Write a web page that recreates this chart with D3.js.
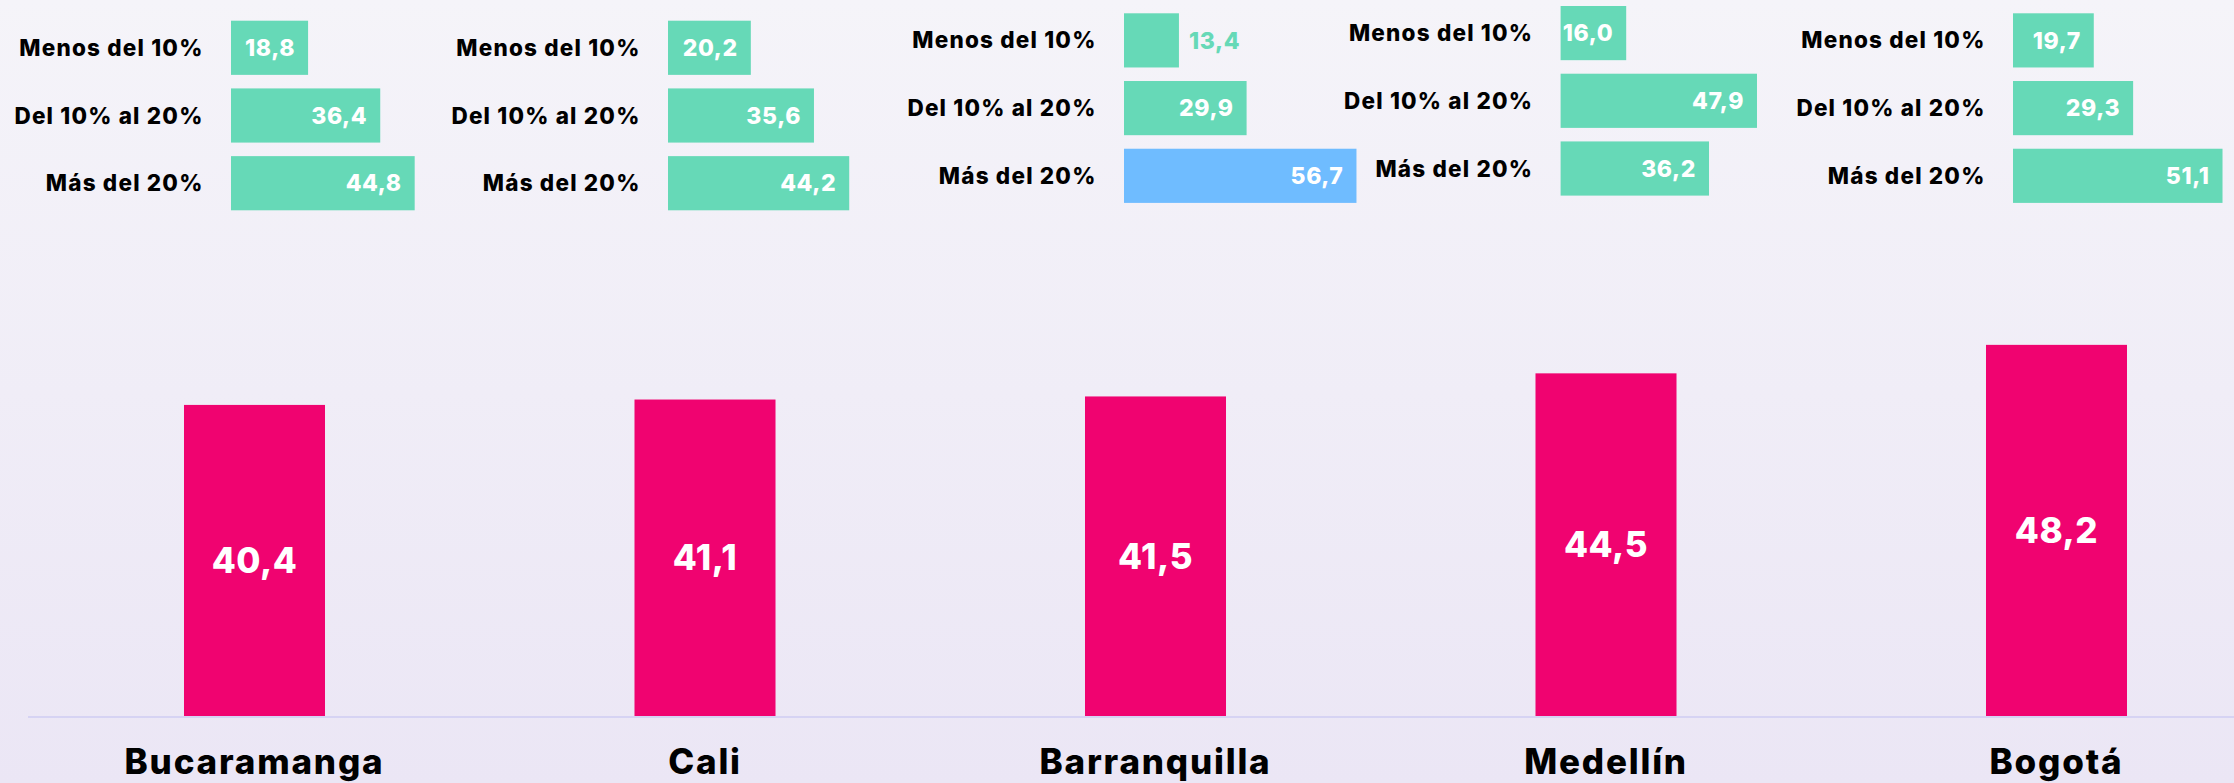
<!DOCTYPE html>
<html>
<head>
<meta charset="utf-8">
<script src="https://cdn.jsdelivr.net/npm/d3@7"></script>
<style>
  html, body { margin: 0; padding: 0; }
  body { width: 2234px; height: 783px; overflow: hidden; }
  svg { display: block; }
  text { font-family: Inter, "Noto Sans", sans-serif; font-weight: 800; }
</style>
</head>
<body>
<svg id="chart" width="2234" height="783"></svg>
<script>
// ---- data ----
const cities = ["Bucaramanga", "Cali", "Barranquilla", "Medellín", "Bogotá"];
const totalValues = [40.4, 41.1, 41.5, 44.5, 48.2];
const bands = ["Menos del 10%", "Del 10% al 20%", "Más del 20%"];
const menosDel10 = [18.8, 20.2, 13.4, 16.0, 19.7];
const del10al20 = [36.4, 35.6, 29.9, 47.9, 29.3];
const masDel20 = [44.8, 44.2, 56.7, 36.2, 51.1];

// ---- layout (not data) ----
const W = 2234, H = 783;
const panelX = [231, 668, 1124, 1560.6, 2013];
const panelY = [20.7, 20.7, 13.3, 6, 13.3];
const colors = { pink: "#F00370", teal: "#66D9B7", blue: "#6FBCFF", base: "#D6D3F3" };
const fmt = v => d3.format(".1f")(v).replace(".", ",");

const svg = d3.select("#chart");
const defs = svg.append("defs");
const grad = defs.append("linearGradient").attr("id", "bg").attr("x1", 0).attr("y1", 0).attr("x2", 0).attr("y2", 1);
grad.append("stop").attr("offset", "0%").attr("stop-color", "#F5F4F9");
grad.append("stop").attr("offset", "100%").attr("stop-color", "#EBE6F5");
svg.append("rect").attr("width", W).attr("height", H).attr("fill", "url(#bg)");

// ---- main bars ----
const x = d3.scaleBand().domain(cities).range([29.25, 2281.75]).paddingInner(0.687).paddingOuter(0.3435);
const y = d3.scaleLinear().domain([0, 50]).range([716, 716 - 385]);

const main = svg.append("g");
main.selectAll("rect.bar").data(cities).join("rect")
  .attr("class", "bar")
  .attr("x", d => x(d))
  .attr("width", x.bandwidth())
  .attr("y", (d, i) => y(totalValues[i]))
  .attr("height", (d, i) => y(0) - y(totalValues[i]))
  .attr("fill", colors.pink);

main.append("line")
  .attr("x1", 28).attr("x2", W).attr("y1", 717).attr("y2", 717)
  .attr("stroke", colors.base).attr("stroke-width", 2);

main.selectAll("text.val").data(cities).join("text")
  .attr("class", "val")
  .attr("x", d => x(d) + x.bandwidth() / 2)
  .attr("y", (d, i) => (y(totalValues[i]) + y(0)) / 2)
  .attr("dy", "0.36em")
  .attr("text-anchor", "middle")
  .attr("fill", "#fff")
  .attr("font-size", 35)
  .attr("letter-spacing", 0.5)
  .text((d, i) => fmt(totalValues[i]));

// city axis
const xAxis = d3.axisBottom(x).tickSize(0).tickPadding(0);
const axisG = svg.append("g").attr("transform", "translate(0,748)").call(xAxis);
axisG.select(".domain").remove();
axisG.selectAll("text")
  .attr("y", 0).attr("dy", "0.73em")
  .attr("fill", "#000")
  .attr("font-size", 35)
  .attr("letter-spacing", 1.8)
  .style("font-family", "Inter, 'Noto Sans', sans-serif")
  .style("font-weight", 800);

// ---- small multiples ----
const xs = d3.scaleLinear().domain([0, 60]).range([0, 246]);
const series = [menosDel10, del10al20, masDel20];
const maxVal = d3.max(series.flat());

cities.forEach((city, ci) => {
  const ys = d3.scaleBand().domain(bands).range([0, 189.6]).paddingInner(0.2).paddingOuter(0);
  const g = svg.append("g").attr("transform", `translate(${panelX[ci]},${panelY[ci]})`);
  const rows = bands.map((b, bi) => ({ band: b, value: series[bi][ci] }));

  g.selectAll("rect").data(rows).join("rect")
    .attr("x", 0)
    .attr("y", d => ys(d.band))
    .attr("width", d => xs(d.value))
    .attr("height", ys.bandwidth())
    .attr("fill", d => d.value === maxVal ? colors.blue : colors.teal);

  g.selectAll("text.lbl").data(rows).join("text")
    .attr("class", "lbl")
    .attr("x", -27.5)
    .attr("y", d => ys(d.band) + ys.bandwidth() / 2)
    .attr("dy", "0.36em")
    .attr("text-anchor", "end")
    .attr("fill", "#000")
    .attr("font-size", 22.5)
    .attr("letter-spacing", 1.2)
    .text(d => d.band);

  g.selectAll("text.v").data(rows).join("text")
    .attr("class", "v")
    .attr("y", d => ys(d.band) + ys.bandwidth() / 2)
    .attr("dy", "0.36em")
    .attr("font-size", 23)
    .attr("letter-spacing", 0.6)
    .text(d => fmt(d.value))
    .each(function(d) {
      const t = d3.select(this);
      const tw = this.getComputedTextLength();
      const bw = xs(d.value);
      if (tw + 10 > bw) {
        t.attr("x", bw + 10).attr("text-anchor", "start").attr("fill", colors.teal);
      } else {
        t.attr("x", bw - 13).attr("text-anchor", "end").attr("fill", "#fff");
      }
    });
});
</script>
</body>
</html>
